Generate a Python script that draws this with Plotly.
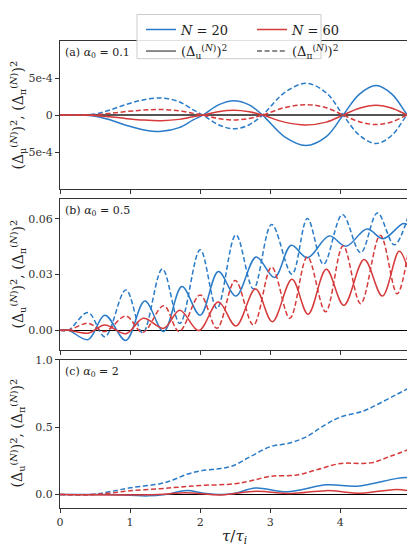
import plotly.graph_objects as go

# ---------------- data ----------------
# Panel (a): alpha0 = 0.1
xa = [0, 0.3, 0.5, 0.7, 0.95, 1.2, 1.45, 1.7, 1.9, 2.04, 2.26, 2.48, 2.7, 2.89,
      3.2, 3.51, 3.8, 4.04, 4.27, 4.51, 4.74, 4.96, 4.98]
a_pi_20 = [0, 0, 1.5e-5, 6.5e-5, 1.45e-4, 2.08e-4, 2.3e-4, 1.8e-4, 7e-5, 0,
           -1.3e-4, -1.86e-4, -1.3e-4, 0, 3.0e-4, 4.29e-4, 3.0e-4, 0,
           -2.7e-4, -3.85e-4, -2.7e-4, 0, -1e-5]
a_u_20 = [0, 0, -1.5e-5, -6e-5, -1.4e-4, -2.0e-4, -2.2e-4, -1.7e-4, -6.5e-5, 0,
          1.38e-4, 1.95e-4, 1.38e-4, 0, -2.9e-4, -4.1e-4, -2.9e-4, 0,
          2.8e-4, 3.98e-4, 2.8e-4, 0, -1e-5]
a_pi_60 = [0, 0, 5e-6, 2.2e-5, 4.8e-5, 6.8e-5, 7.5e-5, 5.8e-5, 2.3e-5, 0,
           -4.6e-5, -6.6e-5, -4.6e-5, 0, 1.0e-4, 1.41e-4, 1.0e-4, 0,
           -9e-5, -1.28e-4, -9e-5, 0, -3e-6]
a_u_60 = [0, 0, -5e-6, -2.2e-5, -4.8e-5, -6.8e-5, -7.5e-5, -5.8e-5, -2.3e-5, 0,
          4.6e-5, 6.6e-5, 4.6e-5, 0, -9.5e-5, -1.33e-4, -9.5e-5, 0,
          9.3e-5, 1.33e-4, 9.3e-5, 0, -3e-6]

# Panel (b): alpha0 = 0.5
xb_pi_20 = [0, 0.12, 0.40, 0.64, 0.94, 1.18, 1.46, 1.71, 2.0, 2.24, 2.51, 2.76,
            3.02, 3.31, 3.53, 3.76, 4.03, 4.29, 4.53, 4.77, 4.98]
b_pi_20 = [0, 0, 0.0095, -0.0035, 0.0217, -0.0015, 0.033, 0.0037, 0.0434, 0.0117,
           0.0514, 0.0222, 0.057, 0.0302, 0.0602, 0.0355, 0.0623, 0.0417, 0.0632,
           0.046, 0.0628]
xb_u_20 = [0, 0.12, 0.40, 0.64, 0.94, 1.21, 1.48, 1.74, 2.0, 2.26, 2.51, 2.80,
           3.06, 3.30, 3.53, 3.84, 4.08, 4.38, 4.61, 4.90, 4.98]
b_u_20 = [0, 0, -0.0051, 0.0081, -0.0055, 0.0157, -0.0007, 0.0235, 0.0081, 0.0316,
          0.0184, 0.0394, 0.0284, 0.0458, 0.039, 0.0508, 0.0452, 0.0545, 0.0493,
          0.0575, 0.0562]
xb_pi_60 = [0, 0.12, 0.40, 0.64, 0.94, 1.18, 1.48, 1.70, 2.0, 2.24, 2.5, 2.76,
            3.02, 3.28, 3.53, 3.79, 4.04, 4.29, 4.57, 4.81, 4.98]
b_pi_60 = [0, 0, 0.0037, -0.0007, 0.0076, -0.0012, 0.0132, -0.0007, 0.019, 0.001,
           0.0268, 0.0028, 0.034, 0.0064, 0.0395, 0.0099, 0.0455, 0.0143, 0.0512,
           0.0196, 0.0448]
xb_u_60 = [0, 0.12, 0.40, 0.64, 0.94, 1.19, 1.48, 1.71, 1.98, 2.26, 2.51, 2.79,
           3.03, 3.31, 3.54, 3.80, 4.05, 4.34, 4.60, 4.84, 4.98]
b_u_60 = [0, 0, -0.0016, 0.0028, -0.0019, 0.0064, 0.001, 0.0108, -0.0002, 0.0152,
          0.0023, 0.0222, 0.0046, 0.0275, 0.0086, 0.0328, 0.0134, 0.0381, 0.0184,
          0.0425, 0.031]

# Panel (c): alpha0 = 2
xc_pi_20 = [0, 0.45, 0.7, 1.0, 1.43, 1.62, 1.81, 2.0, 2.24, 2.45, 2.71, 3.0,
            3.29, 3.52, 3.76, 4.0, 4.33, 4.57, 4.81, 4.98]
c_pi_20 = [0, 0, 0.02, 0.05, 0.08, 0.11, 0.15, 0.175, 0.19, 0.21, 0.28, 0.355,
           0.385, 0.43, 0.51, 0.575, 0.62, 0.68, 0.745, 0.79]
xc_pi_60 = [0, 0.45, 0.7, 1.0, 1.43, 1.7, 2.0, 2.48, 2.71, 3.0, 3.38, 3.67,
            4.0, 4.43, 4.71, 4.98]
c_pi_60 = [0, 0, 0.01, 0.028, 0.043, 0.055, 0.067, 0.079, 0.10, 0.135, 0.145,
           0.185, 0.23, 0.235, 0.283, 0.335]
xc_u_20 = [0, 0.7, 1.0, 1.25, 1.5, 1.81, 2.05, 2.3, 2.5, 2.79, 3.24, 3.81, 4.24,
           4.81, 4.98]
c_u_20 = [0, 0, -0.005, -0.01, 0.0, 0.03, 0.01, 0.0, 0.01, 0.048, 0.02, 0.072,
          0.062, 0.12, 0.127]
xc_u_60 = [0, 1.4, 1.8, 2.3, 2.8, 3.3, 3.8, 4.3, 4.8, 4.98]
c_u_60 = [0, 0, 0.014, -0.003, 0.024, 0.007, 0.029, 0.01, 0.038, 0.027]

# tick labels
a_tickvals = [-5e-4, 0, 5e-4]
a_ticktext = ["-5e-4", "0", "5e-4"]
b_tickvals = [0, 0.03, 0.06]
b_ticktext = ["0.00", "0.03", "0.06"]
c_tickvals = [0, 0.5, 1.0]
c_ticktext = ["0.0", "0.5", "1.0"]
x_tickvals = [0, 1, 2, 3, 4]

# ---------------- styling ----------------
BLUE = "#2a7bc8"
RED = "#d63a3a"
GRAY = "#666666"
FONT = "DejaVu Serif"
DASH = "5px,2.6px"
LW = 1.5

fig = go.Figure()

def add(x, y, color, dash, xa_, ya_, name=None, show=False, legend="legend"):
    fig.add_trace(go.Scatter(
        x=x, y=y, mode="lines", xaxis=xa_, yaxis=ya_,
        line=dict(color=color, width=LW, dash=dash, shape="spline", smoothing=1.0),
        name=name, showlegend=show, legend=legend, hoverinfo="skip"))

# panel a (top) -> x3/y3
add(xa, a_u_20, BLUE, "solid", "x3", "y3", "<i>N</i> = 20", True, "legend")
add(xa, a_pi_20, BLUE, DASH, "x3", "y3")
add(xa, a_u_60, RED, "solid", "x3", "y3", "<i>N</i> = 60", True, "legend")
add(xa, a_pi_60, RED, DASH, "x3", "y3")
# panel b -> x2/y2
add(xb_u_20, b_u_20, BLUE, "solid", "x2", "y2")
add(xb_pi_20, b_pi_20, BLUE, DASH, "x2", "y2")
add(xb_u_60, b_u_60, RED, "solid", "x2", "y2")
add(xb_pi_60, b_pi_60, RED, DASH, "x2", "y2")
# panel c -> x/y
add(xc_u_20, c_u_20, BLUE, "solid", "x", "y")
add(xc_pi_20, c_pi_20, BLUE, DASH, "x", "y")
add(xc_u_60, c_u_60, RED, "solid", "x", "y")
add(xc_pi_60, c_pi_60, RED, DASH, "x", "y")

# legend-only entries
fig.add_trace(go.Scatter(x=[None], y=[None], mode="lines", line=dict(color=GRAY, width=LW),
                         name="(Δ<sub>u</sub><sup>(<i>N</i>)</sup>)<sup>2</sup>",
                         legend="legend2", showlegend=True))
fig.add_trace(go.Scatter(x=[None], y=[None], mode="lines",
                         line=dict(color=GRAY, width=LW, dash=DASH),
                         name="(Δ<sub>π</sub><sup>(<i>N</i>)</sup>)<sup>2</sup>",
                         legend="legend2", showlegend=True))

# The page body adds an 8px margin; size the figure so it fills the window.
OFF = 8
W, H = 415 - OFF, 549 - OFF
# reference plot-area edges (window pixels)
L_PX, R_PX, T_PX, B_PX = 60, 409, 32, 508
ML, MR = L_PX - OFF, W - (R_PX - OFF)
MT, MB = T_PX - OFF, H - (B_PX - OFF)
PW = W - ML - MR
PH = H - MT - MB

def py(px):  # window pixel y -> paper y
    return (B_PX - px) / PH

def pxx(px):  # window pixel x -> paper x
    return (px - L_PX) / PW

def dom(top_px, bot_px):
    return [py(bot_px), py(top_px)]

XR = [0, 4.98]
ytitle = "(Δ<sub>u</sub><sup>(<i>N</i>)</sup>)<sup>2</sup>, (Δ<sub>π</sub><sup>(<i>N</i>)</sup>)<sup>2</sup>"

axis_common = dict(showline=True, linecolor="#333333", linewidth=1, mirror=True,
                   ticks="outside", ticklen=4, tickcolor="#333333", showgrid=False,
                   automargin=False,
                   tickfont=dict(family=FONT, size=11, color="#333333"))

xcommon = dict(axis_common, range=XR, tickvals=x_tickvals, zeroline=False)

fig.update_layout(
    width=W, height=H,
    margin=dict(l=ML, r=MR, t=MT, b=MB),
    paper_bgcolor="white", plot_bgcolor="white",
    font=dict(family=FONT, size=11, color="#222222"),
    xaxis=dict(xcommon, domain=[0, 1], anchor="y"),
    xaxis2=dict(xcommon, domain=[0, 1], anchor="y2", showticklabels=False, matches="x"),
    xaxis3=dict(xcommon, domain=[0, 1], anchor="y3", showticklabels=False, matches="x"),
    yaxis=dict(axis_common, domain=dom(357, 508), range=[-0.1, 1.0], anchor="x",
               tickvals=c_tickvals, ticktext=c_ticktext,
               zeroline=True, zerolinecolor="black", zerolinewidth=1.3),
    yaxis2=dict(axis_common, domain=dom(193, 347), range=[-0.0107, 0.0707], anchor="x2",
                tickvals=b_tickvals, ticktext=b_ticktext,
                zeroline=True, zerolinecolor="black", zerolinewidth=1.3),
    yaxis3=dict(axis_common, domain=dom(32, 183), range=[-1.0e-3, 1.0e-3], anchor="x3",
                tickvals=a_tickvals, ticktext=a_ticktext,
                zeroline=True, zerolinecolor="#555555", zerolinewidth=2.2),
    legend=dict(x=pxx(141), y=py(5), xanchor="left", yanchor="top",
                orientation="h", bgcolor="rgba(0,0,0,0)", borderwidth=0,
                entrywidth=66, font=dict(family=FONT, size=13, color="#222"),
                itemwidth=30),
    legend2=dict(x=pxx(141), y=py(27), xanchor="left", yanchor="top",
                 orientation="h", bgcolor="rgba(0,0,0,0)", borderwidth=0,
                 entrywidth=66, font=dict(family=FONT, size=13, color="#222"),
                 itemwidth=30),
)

# axis titles as annotations
fig.add_annotation(text="<i>τ</i>/<i>τ<sub>i</sub></i>", xref="paper", yref="paper",
                   x=pxx(234), y=py(537), xanchor="center", yanchor="middle",
                   showarrow=False, font=dict(family=FONT, size=15, color="#222"))
for yc in [108, 270, 432]:
    fig.add_annotation(text=ytitle, xref="paper", yref="paper", x=pxx(18), y=py(yc),
                       xanchor="center", yanchor="middle", textangle=-90,
                       showarrow=False, font=dict(family=FONT, size=14, color="#222"))

# panel labels
labels = [("(a) <i>α</i><sub>0</sub> = 0.1", "x3 domain", "y3 domain"),
          ("(b) <i>α</i><sub>0</sub> = 0.5", "x2 domain", "y2 domain"),
          ("(c) <i>α</i><sub>0</sub> = 2", "x domain", "y domain")]
for txt, xr, yr in labels:
    fig.add_annotation(text=txt, xref=xr, yref=yr, x=0.01, y=0.98, xanchor="left",
                       yanchor="top", showarrow=False, font=dict(family=FONT, size=11, color="#222"))

# legend frame
fig.add_shape(type="rect", xref="paper", yref="paper",
              x0=pxx(137), x1=pxx(321), y0=py(50), y1=py(5),
              line=dict(color="#cccccc", width=1), fillcolor="rgba(255,255,255,0.85)",
              layer="above")

fig.write_html("out.html")
